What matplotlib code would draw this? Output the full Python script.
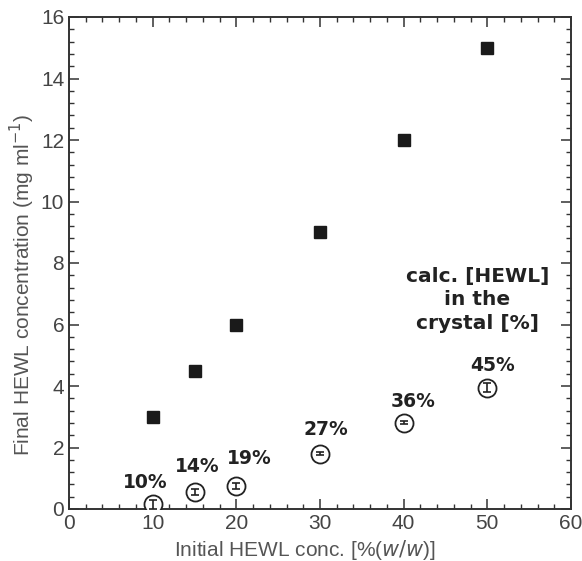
import numpy as np
import matplotlib.pyplot as plt
from matplotlib.ticker import MultipleLocator

# data
x_init = [10, 15, 20, 30, 40, 50]
final_conc = [3.0, 4.5, 6.0, 9.0, 12.0, 15.0]
crystal_conc = [0.15, 0.55, 0.75, 1.8, 2.8, 3.95]
crystal_err = [0.15, 0.1, 0.1, 0.05, 0.05, 0.15]
pct_labels = ["10%", "14%", "19%", "27%", "36%", "45%"]
label_pos = [(9.1, 0.85), (15.3, 1.37), (21.6, 1.63), (30.7, 2.57), (41.1, 3.48), (50.6, 4.68)]

plt.rcParams['font.family'] = ['Liberation Sans', 'DejaVu Sans']

fig = plt.figure(figsize=(5.82, 5.61), dpi=100)
ax = fig.add_axes([69 / 582, 1 - 509 / 561, 502 / 582, 492 / 561])

ax.plot(x_init, final_conc, 's', color='#1a1a1a', ms=9, zorder=3)
ax.plot(x_init, crystal_conc, 'o', mfc='white', mec='#222222', mew=1.3, ms=13, zorder=3)
ax.errorbar(x_init, crystal_conc, yerr=crystal_err, fmt='none', ecolor='#222222',
            elinewidth=1.2, capsize=3, capthick=1.2, zorder=4)

lab_font = dict(family='DejaVu Sans', fontweight='bold', color='#222222')
for (lx, ly), s in zip(label_pos, pct_labels):
    ax.text(lx, ly, s, ha='center', va='center', fontsize=13.5, **lab_font)

ax.text(48.8, 6.8, "calc. [HEWL]\nin the\ncrystal [%]", ha='center', va='center',
        linespacing=1.3, fontsize=14.5, **lab_font)

ax.set_xlim(0, 60)
ax.set_ylim(0, 16)
ax.xaxis.set_major_locator(MultipleLocator(10))
ax.xaxis.set_minor_locator(MultipleLocator(2))
ax.yaxis.set_major_locator(MultipleLocator(2))
ax.yaxis.set_minor_locator(MultipleLocator(0.4))
ax.tick_params(which='both', direction='in', top=True, right=True, colors='#333333',
               labelcolor='#444444', labelsize=15)
ax.tick_params(which='major', length=7, width=1.1)
ax.tick_params(which='minor', length=3.5, width=1.0)
for sp in ax.spines.values():
    sp.set_linewidth(1.4)
    sp.set_color('#333333')

ax.set_xlabel(r"Initial HEWL conc. [%($\it{w/w}$)]", fontsize=15, color='#555555')
ax.set_ylabel(r"Final HEWL concentration (mg ml$^{-1}$)", fontsize=15, color='#555555')
ax.xaxis.set_label_coords(0.47, -0.058)
ax.yaxis.set_label_coords(-0.064, 0.455)

fig.savefig("out.png", dpi=100)
